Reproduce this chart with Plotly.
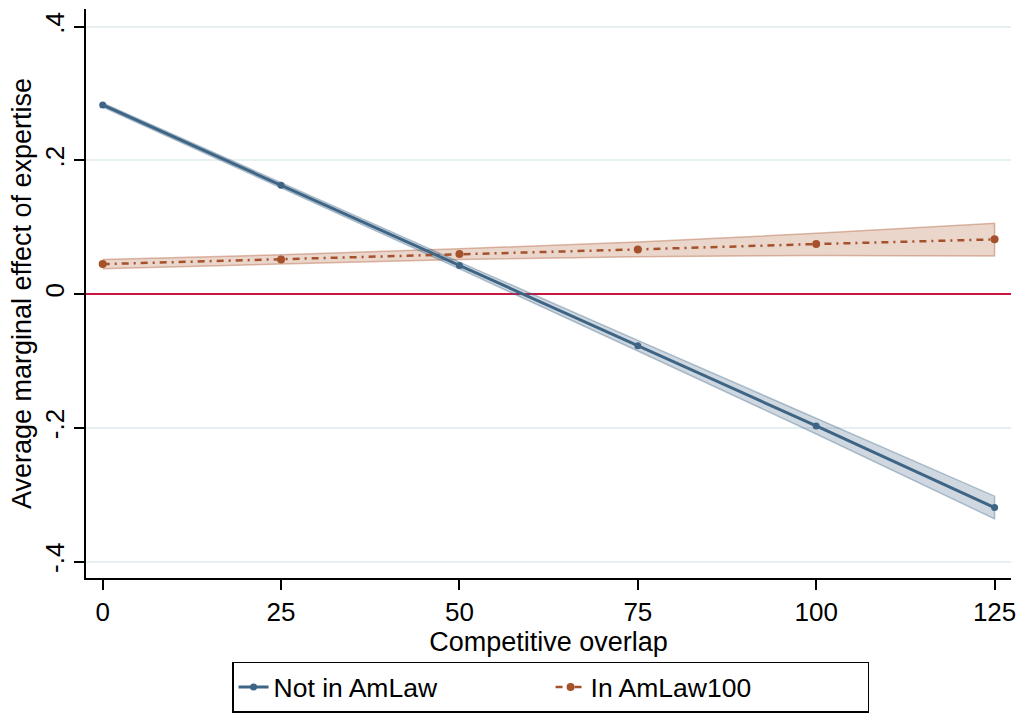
import plotly.graph_objects as go

# Data
overlap = [0, 25, 50, 75, 100, 125]

not_amlaw = [0.283, 0.163, 0.043, -0.077, -0.197, -0.319]
not_amlaw_lo = [0.280, 0.159, 0.038, -0.085, -0.209, -0.336]
not_amlaw_hi = [0.286, 0.167, 0.048, -0.069, -0.185, -0.302]

amlaw100 = [0.045, 0.052, 0.060, 0.067, 0.075, 0.082]
amlaw100_lo = [0.038, 0.045, 0.052, 0.056, 0.058, 0.057]
amlaw100_hi = [0.052, 0.059, 0.068, 0.078, 0.091, 0.106]

y_ticks = [-0.4, -0.2, 0, 0.2, 0.4]
y_ticktext = ["-.4", "-.2", "0", ".2", ".4"]
x_ticks = [0, 25, 50, 75, 100, 125]

blue = "#3e6585"
orange = "#a5522c"
FONT = "Liberation Sans, Arial, sans-serif"

fig = go.Figure()

def band(x, lo, hi, fill, edge):
    return go.Scatter(
        x=list(x) + list(x)[::-1],
        y=list(hi) + list(lo)[::-1],
        fill="toself", fillcolor=fill,
        line=dict(color=edge, width=1.5),
        mode="lines", hoverinfo="skip", showlegend=False,
    )

fig.add_trace(band(overlap, amlaw100_lo, amlaw100_hi, "rgba(176,96,58,0.26)", "rgba(176,96,58,0.42)"))
fig.add_trace(band(overlap, not_amlaw_lo, not_amlaw_hi, "rgba(62,101,133,0.25)", "rgba(62,101,133,0.36)"))

fig.add_trace(go.Scatter(
    x=overlap, y=amlaw100, name="In AmLaw100", mode="lines+markers",
    line=dict(color=orange, width=2.5, dash="7px,5px,2px,5px"),
    marker=dict(color=orange, size=8),
))
fig.add_trace(go.Scatter(
    x=overlap, y=not_amlaw, name="Not in AmLaw", mode="lines+markers",
    line=dict(color=blue, width=3),
    marker=dict(color=blue, size=7),
))

fig.update_layout(
    width=1022, height=715,
    margin=dict(l=86, r=11, t=9, b=137),
    paper_bgcolor="white", plot_bgcolor="white",
    font=dict(family=FONT, size=26, color="black"),
    legend=dict(
        orientation="h", xref="container", yref="container",
        x=0.5387, xanchor="center", y=0.003, yanchor="bottom",
        bordercolor="black", borderwidth=1.5, bgcolor="white",
        font=dict(size=26.5), traceorder="reversed",
        entrywidth=272, entrywidthmode="pixels",
    ),
    showlegend=True,
)

fig.update_xaxes(
    range=[-2.34, 127.3], tickvals=x_ticks, showgrid=False, zeroline=False,
    showline=True, linecolor="black", linewidth=1.5, automargin=False,
    ticks="outside", ticklen=10, tickwidth=1.5, tickcolor="black",
    tickfont=dict(size=26),
    title=dict(text="Competitive overlap", font=dict(size=27), standoff=0),
)
fig.update_yaxes(
    range=[-0.4244, 0.4265], tickvals=y_ticks, ticktext=y_ticktext, tickangle=-90,
    showgrid=True, gridcolor="#e6eff1", gridwidth=1.5, automargin=False,
    zeroline=True, zerolinecolor="#c8163f", zerolinewidth=2,
    showline=True, linecolor="black", linewidth=1.5,
    ticks="outside", ticklen=10, tickwidth=1.5, tickcolor="black",
    tickfont=dict(size=26),
    title=dict(text="Average marginal effect of expertise", font=dict(size=27), standoff=0),
)

fig.write_html("out.html", config={"displayModeBar": False},
               post_script="document.body.style.margin='0';")
